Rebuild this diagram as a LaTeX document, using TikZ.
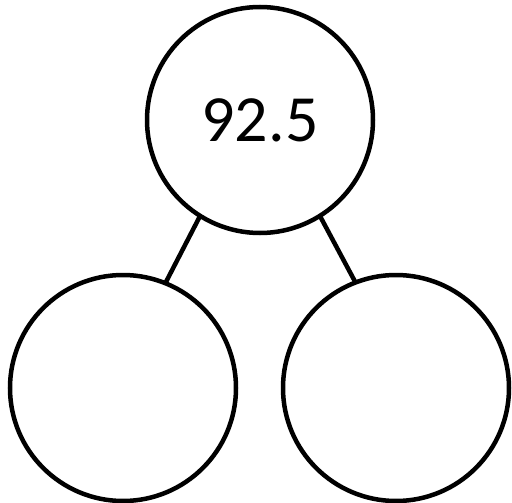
\documentclass[tikz,border=0pt]{standalone}
\usepackage{fontspec}
\setmainfont{Carlito}
\begin{document}
\begin{tikzpicture}[x=1pt,y=-1pt,
  bubble/.style={circle,draw=black,line width=4.5pt,minimum size=226pt,inner sep=0pt,outer sep=0pt},
  link/.style={draw=black,line width=4.5pt}]
\useasboundingbox (0,0) rectangle (512,503);
\node[bubble,font=\fontsize{66}{70}\selectfont] (top) at (260,120) {92.5};
\node[bubble] (left) at (123,388) {};
\node[bubble] (right) at (396,388) {};
\draw[link] (top.238) -- (left.68);
\draw[link] (top.302) -- (right.111);
\end{tikzpicture}
\end{document}
